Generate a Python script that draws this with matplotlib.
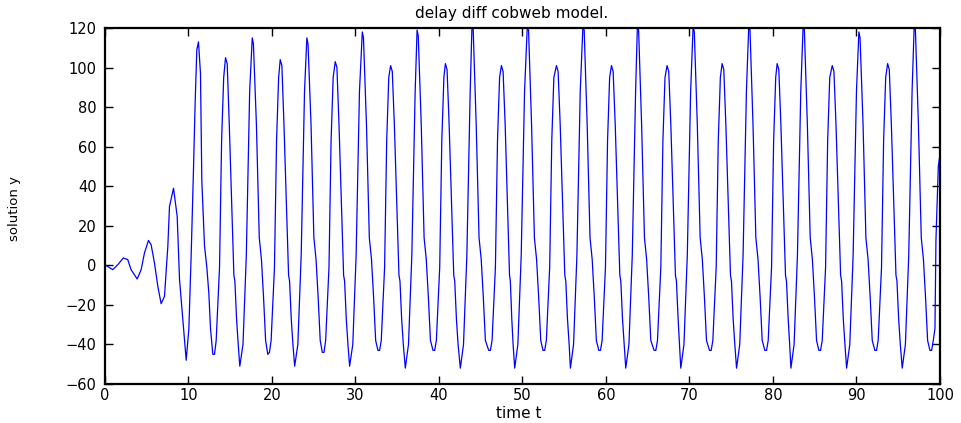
import matplotlib
matplotlib.use("Agg")
import matplotlib.pyplot as plt

title = "delay diff cobweb model."
x_label = "time t"
y_label = "solution y"

x_ticks = [0, 10, 20, 30, 40, 50, 60, 70, 80, 90, 100]
y_ticks = [-60, -40, -20, 0, 20, 40, 60, 80, 100, 120]

# start-up wiggle
t_start = [0, 0.93, 1.53, 2.2, 2.73, 3.13, 3.86, 4.33, 4.73, 5.21, 5.53, 5.93,
           6.33, 6.73, 7.13, 7.53, 7.73, 8.21, 8.65, 8.93, 9.33]
y_start = [0.3, -2.2, 0.3, 3.7, 2.9, -2.2, -6.9, -2.2, 6.2, 12.6, 10.4, 1.2,
           -10.6, -19.4, -15.7, 9.6, 29.8, 39, 24.8, -7.2, -27.5]

# the big oscillation, one line per pair of peaks
t_osc = [
    9.73, 10.05, 10.33, 10.6, 10.8, 11.0, 11.2, 11.44, 11.6, 11.92, 12.2, 12.44, 12.64, 12.92, 13.12,
    13.32, 13.72, 13.97, 14.22, 14.44, 14.64, 14.89, 15.29, 15.44, 15.56, 15.76, 15.96,
    16.15, 16.53, 16.93, 17.33, 17.64, 17.78, 18.14, 18.48, 18.74, 18.99, 19.24, 19.5, 19.7,
    19.9, 20.3, 20.55, 20.8, 20.99, 21.19, 21.44, 21.84, 21.99, 22.11, 22.31, 22.51,
    22.72, 23.1, 23.5, 23.9, 24.18, 24.32, 24.68, 25.02, 25.28, 25.53, 25.78, 26.03, 26.23,
    26.43, 26.83, 27.08, 27.33, 27.58, 27.78, 28.03, 28.43, 28.58, 28.7, 28.9, 29.1,
    29.3, 29.68, 30.08, 30.48, 30.82, 30.96, 31.32, 31.66, 31.92, 32.17, 32.42, 32.69, 32.89,
    33.09, 33.49, 33.74, 33.99, 34.21, 34.41, 34.66, 35.06, 35.21, 35.33, 35.53, 35.73,
    35.97, 36.35, 36.75, 37.15, 37.38, 37.52, 37.88, 38.22, 38.48, 38.73, 38.98, 39.29, 39.49,
    39.69, 40.09, 40.34, 40.59, 40.77, 40.97, 41.22, 41.62, 41.77, 41.89, 42.09, 42.29,
    42.56, 42.94, 43.34, 43.74, 43.96, 44.1, 44.46, 44.8, 45.06, 45.31, 45.56, 45.96, 46.16,
    46.36, 46.76, 47.01, 47.26, 47.48, 47.68, 47.93, 48.3, 48.45, 48.55, 48.72, 48.88,
    49.07, 49.45, 49.85, 50.25, 50.59, 50.73, 51.09, 51.43, 51.69, 51.94, 52.19, 52.46, 52.66,
    52.86, 53.26, 53.51, 53.76, 54.07, 54.27, 54.52, 54.92, 55.07, 55.19, 55.39, 55.59,
    55.74, 56.12, 56.52, 56.92, 57.25, 57.39, 57.75, 58.09, 58.35, 58.6, 58.85, 59.14, 59.34,
    59.54, 59.94, 60.19, 60.44, 60.66, 60.86, 61.11, 61.51, 61.66, 61.78, 61.98, 62.18,
    62.37, 62.75, 63.15, 63.55, 63.77, 63.91, 64.27, 64.61, 64.87, 65.12, 65.37, 65.77, 65.97,
    66.17, 66.57, 66.82, 67.07, 67.32, 67.52, 67.77, 68.17, 68.32, 68.44, 68.64, 68.8,
    68.96, 69.34, 69.74, 70.14, 70.44, 70.58, 70.94, 71.28, 71.54, 71.79, 72.04, 72.4, 72.6,
    72.8, 73.2, 73.45, 73.7, 73.91, 74.11, 74.36, 74.76, 74.91, 75.03, 75.23, 75.43,
    75.64, 76.02, 76.42, 76.82, 77.11, 77.25, 77.61, 77.95, 78.21, 78.46, 78.71, 79.03, 79.23,
    79.43, 79.83, 80.08, 80.33, 80.5, 80.7, 80.95, 81.35, 81.5, 81.62, 81.82, 82.0,
    82.15, 82.53, 82.93, 83.33, 83.62, 83.76, 84.12, 84.46, 84.72, 84.97, 85.22, 85.5, 85.7,
    85.9, 86.3, 86.55, 86.8, 87.1, 87.3, 87.55, 87.95, 88.1, 88.22, 88.42, 88.62,
    88.82, 89.2, 89.6, 90.0, 90.29, 90.43, 90.79, 91.13, 91.39, 91.64, 91.89, 92.2, 92.4,
    92.6, 93.0, 93.25, 93.5, 93.73, 93.93, 94.18, 94.58, 94.73, 94.85, 95.05, 95.25,
    95.48, 95.86, 96.26, 96.66, 96.92, 97.06, 97.42, 97.76, 98.02, 98.27, 98.52, 98.8, 99.0,
    99.2, 99.4, 99.52, 99.8, 100,
]
y_osc = [
    -48, -32, 6, 48, 82, 109, 113, 97, 43, 10, -1, -14, -32, -45, -45,
    -38, -1, 63, 95, 105, 102, 71, 17, -5, -8, -27, -40,
    -51, -40, 5, 88, 115, 112, 71, 14, 3, -16, -38, -45, -44,
    -38, -1, 63, 95, 104, 101, 71, 17, -5, -8, -27, -40,
    -51, -40, 5, 88, 115, 112, 71, 14, 3, -16, -38, -44, -44,
    -38, -1, 63, 95, 103, 100, 71, 17, -5, -8, -27, -40,
    -51, -40, 5, 88, 118, 115, 71, 14, 3, -16, -38, -43, -43,
    -38, -1, 63, 95, 101, 98, 71, 17, -5, -8, -27, -40,
    -52, -40, 5, 88, 119, 116, 71, 14, 3, -16, -38, -43, -43,
    -38, -1, 63, 95, 102, 99, 71, 17, -5, -8, -27, -40,
    -52, -40, 5, 88, 122, 119, 71, 14, 3, -16, -38, -43, -43,
    -38, -1, 63, 95, 101, 98, 71, 17, -5, -8, -27, -40,
    -52, -40, 5, 88, 122, 119, 71, 14, 3, -16, -38, -43, -43,
    -38, -1, 63, 95, 101, 98, 71, 17, -5, -8, -27, -40,
    -52, -40, 5, 88, 122, 119, 71, 14, 3, -16, -38, -43, -43,
    -38, -1, 63, 95, 101, 98, 71, 17, -5, -8, -27, -40,
    -52, -40, 5, 88, 122, 119, 71, 14, 3, -16, -38, -43, -43,
    -38, -1, 63, 95, 101, 98, 71, 17, -5, -8, -27, -40,
    -52, -40, 5, 88, 121, 118, 71, 14, 3, -16, -38, -43, -43,
    -38, -1, 63, 95, 102, 99, 71, 17, -5, -8, -27, -40,
    -52, -40, 5, 88, 122, 119, 71, 14, 3, -16, -38, -43, -43,
    -38, -1, 63, 95, 102, 99, 71, 17, -5, -8, -27, -40,
    -52, -40, 5, 88, 122, 119, 71, 14, 3, -16, -38, -43, -43,
    -38, -1, 63, 95, 101, 98, 71, 17, -5, -8, -27, -40,
    -52, -40, 5, 88, 118, 115, 71, 14, 3, -16, -38, -43, -43,
    -38, -1, 63, 95, 102, 99, 71, 17, -5, -8, -27, -40,
    -52, -40, 5, 88, 122, 119, 71, 14, 3, -16, -38, -43, -43,
    -38, -32, 13, 50, 56,
]

t = t_start + t_osc
y = y_start + y_osc

fig = plt.figure(figsize=(9.62, 4.23), dpi=100)
ax = fig.add_axes([0.1091, 0.0922, 0.868, 0.8416])

ax.plot(t, y, color="#0000ff", lw=0.9)

ax.set_xlim(0, 100)
ax.set_ylim(-60, 120)
ax.set_xticks(x_ticks)
ax.set_yticks(y_ticks)
ax.tick_params(direction="in", length=6, width=1.0, top=True, right=True,
               labelsize=10.5)
ax.tick_params(axis="x", pad=3)
ax.tick_params(axis="y", pad=6)
for s in ax.spines.values():
    s.set_linewidth(1.6)

ax.set_title(title, fontsize=11, x=0.487, y=1.042, va="center", pad=0)
ax.set_xlabel(x_label, fontsize=11)
ax.xaxis.set_label_coords(0.495, -0.083)
ax.xaxis.label.set_va("center")
ax.set_ylabel(y_label, fontsize=9.5)
ax.yaxis.set_label_coords(-0.108, 0.494)
ax.yaxis.label.set_va("center")

fig.savefig("out.png", dpi=100)
